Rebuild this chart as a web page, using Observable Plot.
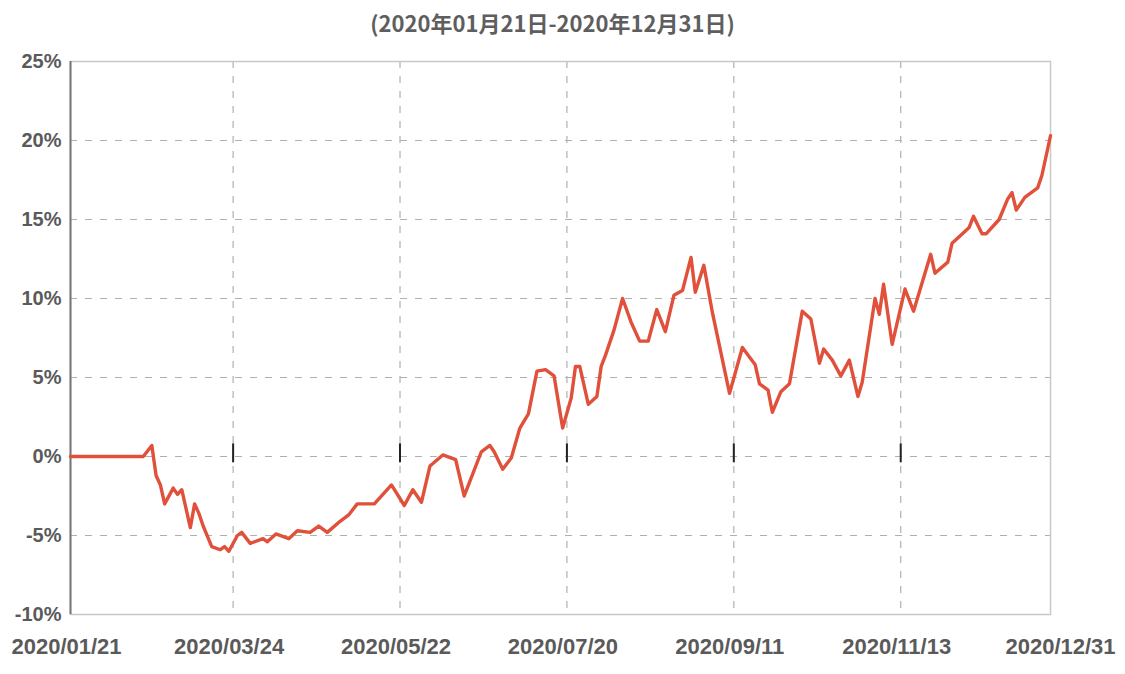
<!DOCTYPE html>
<html><head><meta charset="utf-8">
<script src="https://cdn.jsdelivr.net/npm/d3@7"></script>
<script src="https://cdn.jsdelivr.net/npm/@observablehq/plot@0.6"></script>
<style>
body{margin:0;background:#fff;}
#title{height:44px;width:1105px;text-align:center;font:bold 22px "Liberation Sans Narrow","Noto Sans CJK SC",sans-serif;color:#5e5e5e;line-height:44px;white-space:nowrap;}
#chart{width:1125px;height:630px;}
</style></head><body>
<div id="title">(2020年01月21日-2020年12月31日)</div>
<div id="chart"></div>
<script>
// trading-day index since 2020/01/21 and cumulative return (%)
const dayIndex = [0,17,19,20,21,22,24,25,26,28,29,30,31,33,35,36,37,39,40,42,45,46,48,51,53,56,58,60,63,65,67,71,75,78,80,82,84,87,90,92,93,96,98,99,101,103,105,107,109,111,113,115,117,118,119,121,123,124,125,127,129,131,133,135,137,139,141,143,145,146,148,150,154,157,160,161,163,164,166,168,171,173,175,176,178,180,182,184,185,188,189,190,192,195,197,201,202,205,206,210,211,213,214,217,219,220,221,223,226,227,229];
const returnPct = [0,0,0.7,-1.2,-1.8,-3.0,-2.0,-2.4,-2.1,-4.5,-3.0,-3.6,-4.4,-5.7,-5.9,-5.7,-6.0,-5.0,-4.8,-5.5,-5.2,-5.4,-4.9,-5.2,-4.7,-4.8,-4.4,-4.8,-4.1,-3.7,-3.0,-3.0,-1.8,-3.1,-2.1,-2.9,-0.6,0.1,-0.2,-2.5,-1.8,0.3,0.7,0.3,-0.8,-0.1,1.8,2.7,5.4,5.5,5.1,1.8,3.7,5.7,5.7,3.3,3.8,5.7,6.4,8.0,10.0,8.5,7.3,7.3,9.3,7.9,10.2,10.5,12.6,10.4,12.1,9.1,4.0,6.9,5.8,4.6,4.2,2.8,4.1,4.6,9.2,8.7,5.9,6.8,6.1,5.1,6.1,3.8,4.7,10.0,9.0,10.9,7.1,10.6,9.2,12.8,11.6,12.3,13.5,14.5,15.2,14.1,14.1,15.0,16.3,16.7,15.6,16.4,17.0,17.8,20.3];
const tickIndex = [0,38,77,116,155,194,229];
const tickLabels = ["2020/01/21","2020/03/24","2020/05/22","2020/07/20","2020/09/11","2020/11/13","2020/12/31"];
const yTicks = [-10,-5,0,5,10,15,20,25];

const data = dayIndex.map((d, k) => ({i: d, v: returnPct[k]}));
const labelOf = new Map(tickIndex.map((t, k) => [t, tickLabels[k]]));
const innerTicks = tickIndex.slice(1, tickIndex.length - 1);
const lastTick = tickIndex[tickIndex.length - 1];

const font = "'Liberation Sans Narrow','Arial Narrow',sans-serif";
const chart = Plot.plot({
  width: 1125,
  height: 630,
  marginTop: 17,
  marginBottom: 60,
  marginLeft: 70,
  marginRight: 75,
  style: {fontFamily: font, fontWeight: "bold", color: "#5a5a5a", background: "#fff"},
  x: {domain: [0, lastTick]},
  y: {domain: [-10, 25]},
  marks: [
    Plot.gridY(yTicks.slice(1, -1), {stroke: "#b0b0b0", strokeOpacity: 1, strokeWidth: 1.2, strokeDasharray: "7,8"}),
    Plot.gridX(innerTicks, {stroke: "#b0b0b0", strokeOpacity: 1, strokeWidth: 1.2, strokeDasharray: "7,8"}),
    Plot.frame({stroke: "#c8c8c8", strokeWidth: 1.5}),
    Plot.ruleX([0], {stroke: "#777", strokeWidth: 2}),
    Plot.ruleX(innerTicks, {y1: -0.4, y2: 0.8, stroke: "#222", strokeWidth: 2}),
    Plot.axisY({ticks: yTicks, tickFormat: d => d + "%", tickSize: 0, tickPadding: 9, fontSize: 20, fontWeight: "bold", label: null}),
    Plot.axisX(tickIndex.slice(0, -1), {tickFormat: d => labelOf.get(d), tickSize: 0, tickPadding: 24, fontSize: 22, fontWeight: "bold", dx: -4, label: null}),
    Plot.axisX([lastTick], {tickFormat: d => labelOf.get(d), tickSize: 0, tickPadding: 24, fontSize: 22, fontWeight: "bold", dx: 10, label: null}),
    Plot.line(data, {x: "i", y: "v", stroke: "#e0503a", strokeWidth: 3.4, strokeLinejoin: "round"})
  ]
});
document.getElementById("chart").appendChild(chart);
</script>
</body></html>
